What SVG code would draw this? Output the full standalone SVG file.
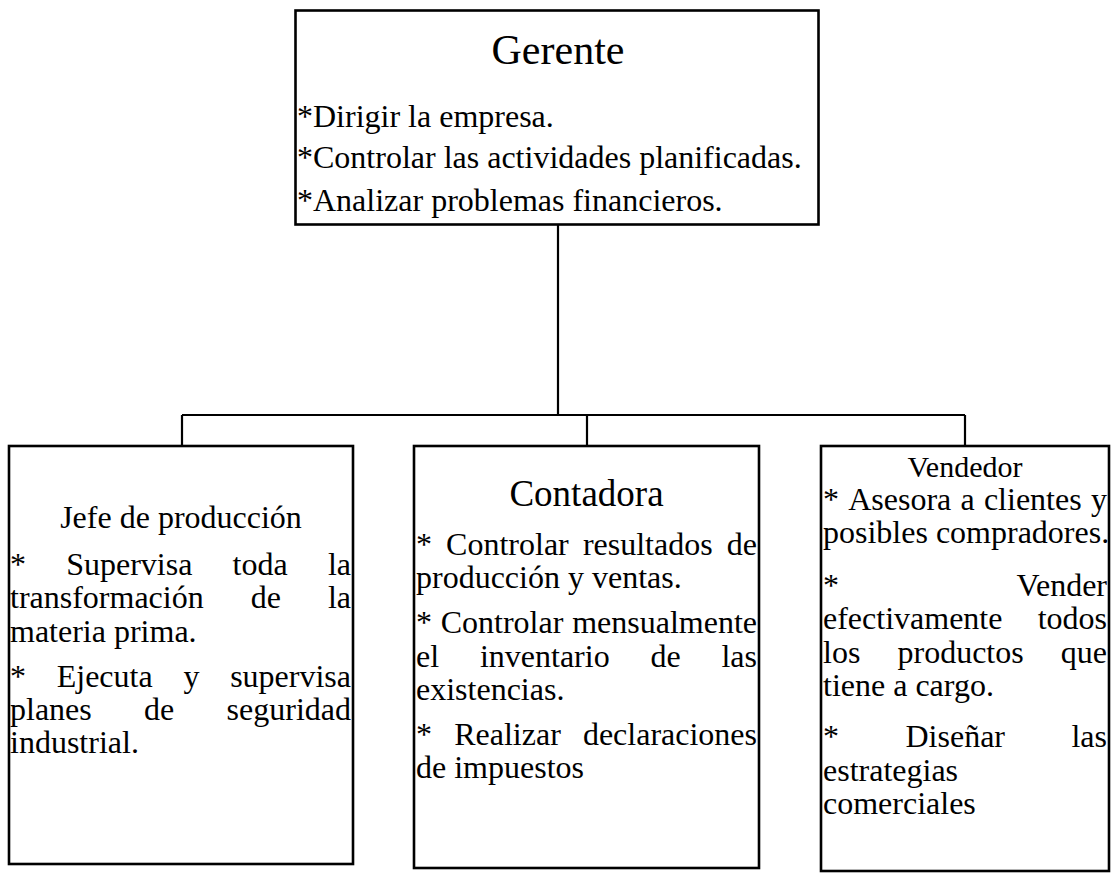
<svg xmlns="http://www.w3.org/2000/svg" width="1115" height="873" viewBox="0 0 1115 873">
<style>
.box{fill:#fff;stroke:#000;stroke-width:2.6}
.con{fill:none;stroke:#000;stroke-width:2.2}
text{font-family:"Liberation Serif","Times New Roman",serif;fill:#000;font-size:32px}
.c{text-anchor:middle}
.e{text-anchor:end}
</style>
<rect width="1115" height="873" fill="#fff"/>
<g id="connectors">
<path class="con" d="M558 224V415M182 415H965M182 415V446M587 415V446M965 415V446"/>
</g>
<g id="gerente">
<rect class="box" x="295.5" y="10.5" width="523" height="214"/>
<text class="c" x="558" y="64" style="font-size:42px">Gerente</text>
<text x="297" y="127">*Dirigir la empresa.</text>
<text x="297" y="168">*Controlar las actividades planificadas.</text>
<text x="297" y="211">*Analizar problemas financieros.</text>
</g>
<g id="jefe">
<rect class="box" x="9" y="446" width="344" height="418"/>
<text class="c" x="181" y="528">Jefe de producción</text>
<text y="575"><tspan x="10">*</tspan><tspan x="66.2">Supervisa</tspan><tspan x="232.6">toda</tspan><tspan x="351" class="e">la</tspan></text>
<text y="608"><tspan x="10">transformación</tspan><tspan x="250.7">de</tspan><tspan x="351" class="e">la</tspan></text>
<text x="10" y="642">materia prima.</text>
<text y="687"><tspan x="10">*</tspan><tspan x="56.7">Ejecuta</tspan><tspan x="183.4">y</tspan><tspan x="351" class="e">supervisa</tspan></text>
<text y="720"><tspan x="10">planes</tspan><tspan x="144.1">de</tspan><tspan x="351" class="e">seguridad</tspan></text>
<text x="10" y="753">industrial.</text>
</g>
<g id="contadora">
<rect class="box" x="414" y="446" width="345" height="422"/>
<text class="c" x="586.5" y="506" style="font-size:37px">Contadora</text>
<text y="555"><tspan x="416">*</tspan><tspan x="446.1">Controlar</tspan><tspan x="582.9">resultados</tspan><tspan x="757" class="e">de</tspan></text>
<text x="416" y="588">producción y ventas.</text>
<text y="633"><tspan x="416">*</tspan><tspan x="440.7">Controlar</tspan><tspan x="757" class="e">mensualmente</tspan></text>
<text y="667"><tspan x="416">el</tspan><tspan x="479.9">inventario</tspan><tspan x="650.5">de</tspan><tspan x="757" class="e">las</tspan></text>
<text x="416" y="700">existencias.</text>
<text y="745"><tspan x="416">*</tspan><tspan x="454.2">Realizar</tspan><tspan x="757" class="e">declaraciones</tspan></text>
<text x="416" y="778">de impuestos</text>
</g>
<g id="vendedor">
<rect class="box" x="821" y="446" width="288" height="425"/>
<text class="c" x="965" y="477" style="font-size:30px">Vendedor</text>
<text y="510"><tspan x="823">*</tspan><tspan x="848.2">Asesora</tspan><tspan x="960.5">a</tspan><tspan x="983.9">clientes</tspan><tspan x="1107" class="e">y</tspan></text>
<text x="823" y="543">posibles compradores.</text>
<text y="596"><tspan x="823">*</tspan><tspan x="1107" class="e">Vender</tspan></text>
<text y="629"><tspan x="823">efectivamente</tspan><tspan x="1107" class="e">todos</tspan></text>
<text y="663"><tspan x="823">los</tspan><tspan x="897.5">productos</tspan><tspan x="1107" class="e">que</tspan></text>
<text x="823" y="696">tiene a cargo.</text>
<text y="747"><tspan x="823">*</tspan><tspan x="905.5">Diseñar</tspan><tspan x="1107" class="e">las</tspan></text>
<text x="823" y="781">estrategias</text>
<text x="823" y="814">comerciales</text>
</g>
</svg>
